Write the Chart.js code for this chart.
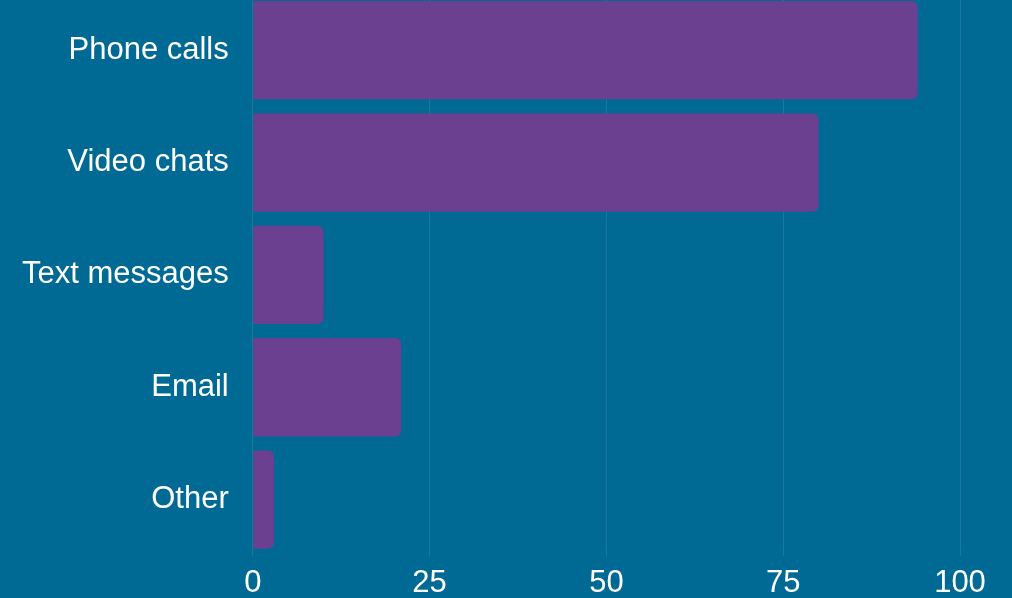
<!DOCTYPE html>
<html>
<head>
<meta charset="utf-8">
<script src="https://cdn.jsdelivr.net/npm/chart.js@4"></script>
<style>
  html, body { margin: 0; padding: 0; background: #006994; overflow: hidden; }
  #wrap { position: absolute; left: 0; top: -6px; width: 1012px; height: 606px; }
</style>
</head>
<body>
<div id="wrap"><canvas id="chartCanvas"></canvas></div>
<script>
const categories = ['Phone calls', 'Video chats', 'Text messages', 'Email', 'Other'];
const values = [94, 80, 10, 21, 3];
const xTicks = [0, 25, 50, 75, 100];

const ctx = document.getElementById('chartCanvas').getContext('2d');
Chart.defaults.font.family = '"Liberation Sans", Arial, sans-serif';
Chart.defaults.color = '#ffffff';

// drop the extra room Chart.js reserves for half labels, layout padding decides
function noPad(scale) {
  scale.paddingTop = 0;
  scale.paddingBottom = 0;
  scale.paddingLeft = 0;
  scale.paddingRight = 0;
}

window.myChart = new Chart(ctx, {
  type: 'bar',
  data: {
    labels: categories,
    datasets: [{
      data: values,
      backgroundColor: '#6b4090',
      borderRadius: 6,
      borderSkipped: 'start',
      categoryPercentage: 1,
      barPercentage: 0.875
    }]
  },
  options: {
    indexAxis: 'y',
    responsive: true,
    maintainAspectRatio: false,
    animation: false,
    layout: { padding: { left: 22, right: 52, top: 0, bottom: 0 } },
    plugins: {
      legend: { display: false },
      tooltip: { enabled: false }
    },
    scales: {
      x: {
        min: 0,
        max: 100,
        afterBuildTicks: (axis) => { axis.ticks = xTicks.map(v => ({ value: v })); },
        afterFit: (scale) => { noPad(scale); scale.height -= 11; },
        grid: { color: 'rgba(255,255,255,0.1)', drawTicks: false },
        border: { display: false },
        ticks: { color: '#ffffff', font: { size: 31 }, padding: 9 }
      },
      y: {
        afterFit: (scale) => { noPad(scale); scale.width -= 24; },
        grid: { display: false, drawTicks: false },
        border: { display: false },
        ticks: { color: '#ffffff', font: { size: 31 }, padding: 24 }
      }
    }
  }
});
</script>
</body>
</html>
